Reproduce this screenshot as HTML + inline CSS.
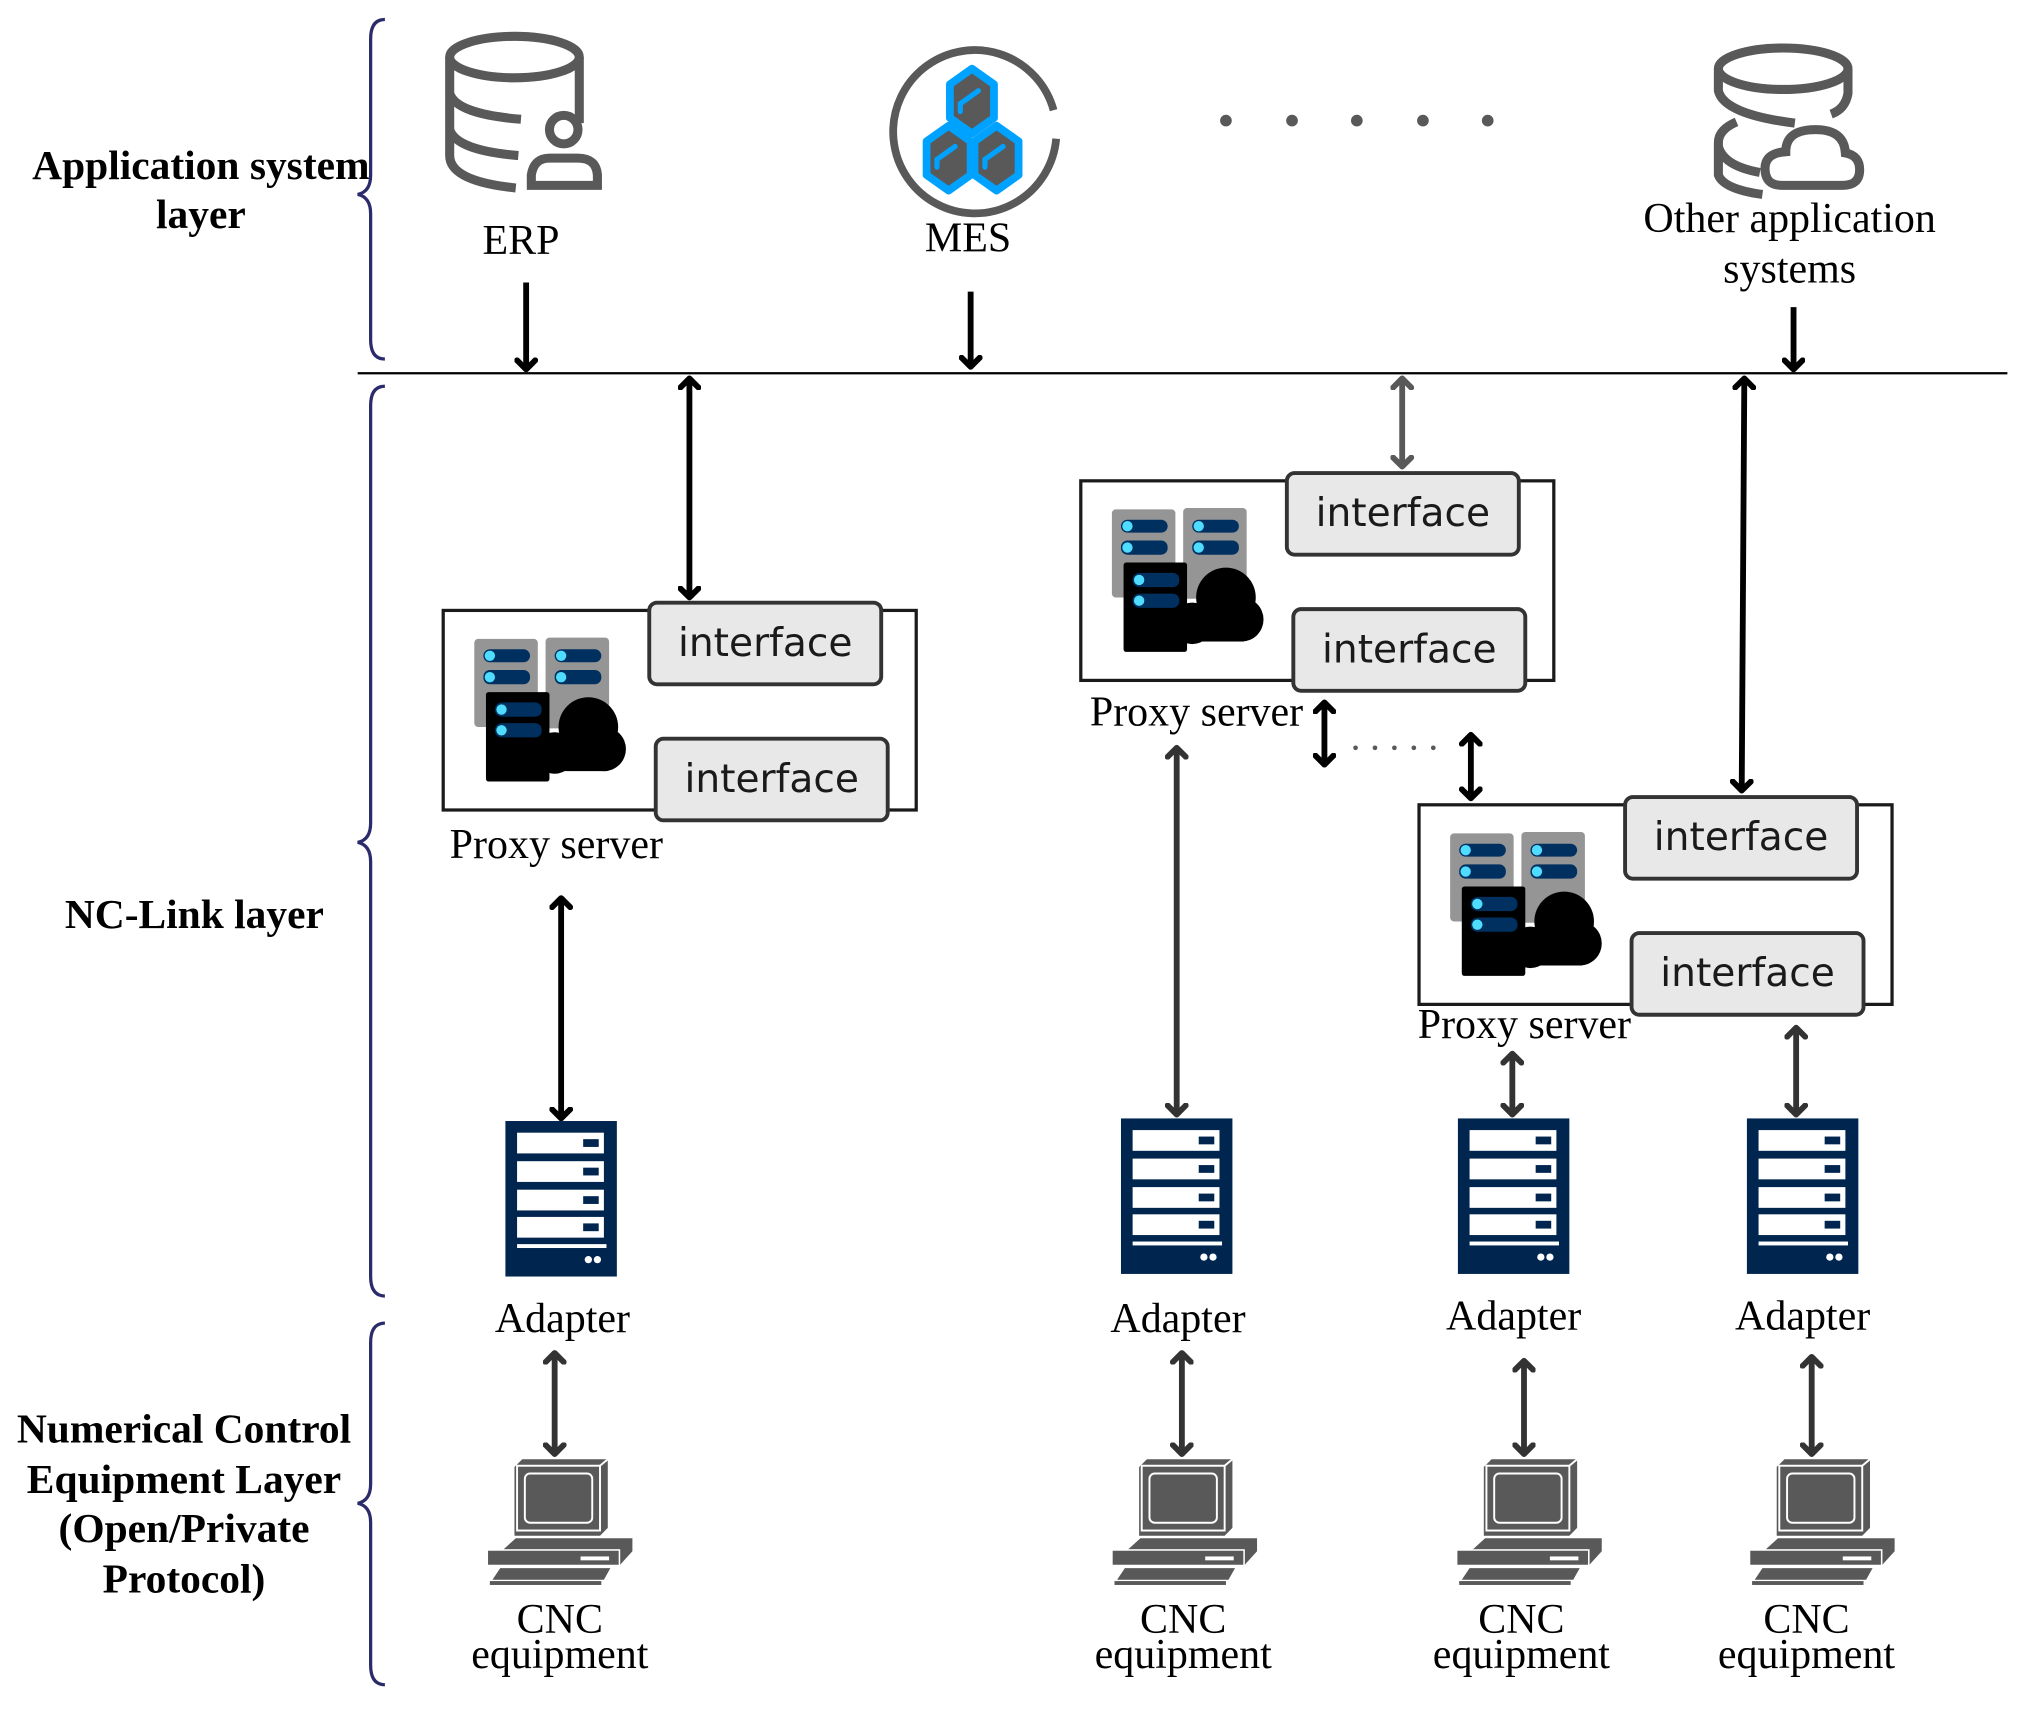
<!DOCTYPE html>
<html><head><meta charset="utf-8"><style>
html,body{margin:0;padding:0;background:#fff}
svg{display:block}
.tn{font-family:"Liberation Serif",serif;font-size:32.4px;fill:#000}
.tb{font-family:"Liberation Serif",serif;font-size:32px;font-weight:bold;fill:#000}
.ti{font-family:"DejaVu Sans","Liberation Sans",sans-serif;font-size:30.2px;fill:#1a1a1a}
</style></head><body>
<svg width="2032" height="1712" viewBox="0 0 1568 1321" xmlns="http://www.w3.org/2000/svg">
<defs>
<marker id="ahk" markerUnits="userSpaceOnUse" markerWidth="18" markerHeight="18" refX="9" refY="9" orient="auto-start-reverse" viewBox="0 0 18 18">
<path d="M2,2 L9,9 L2,16" fill="none" stroke="#000" stroke-width="4.5" stroke-linecap="round" stroke-linejoin="round"/>
</marker>
<marker id="ahd" markerUnits="userSpaceOnUse" markerWidth="18" markerHeight="18" refX="9" refY="9" orient="auto-start-reverse" viewBox="0 0 18 18">
<path d="M2,2 L9,9 L2,16" fill="none" stroke="#333" stroke-width="4.5" stroke-linecap="round" stroke-linejoin="round"/>
</marker>
<marker id="ahg" markerUnits="userSpaceOnUse" markerWidth="18" markerHeight="18" refX="9" refY="9" orient="auto-start-reverse" viewBox="0 0 18 18">
<path d="M2,2 L9,9 L2,16" fill="none" stroke="#595959" stroke-width="4.5" stroke-linecap="round" stroke-linejoin="round"/>
</marker>
<g id="picon">
<rect x="24" y="22" width="49" height="68" rx="3" fill="#959595"/>
<rect x="79" y="21" width="49" height="70" rx="3" fill="#959595"/>
<rect x="31" y="30" width="36" height="10" rx="5" fill="#003060"/><circle cx="36" cy="35" r="4" fill="#4fdcff"/>
<rect x="31" y="46" width="36" height="11" rx="5" fill="#003060"/><circle cx="36" cy="51.5" r="4" fill="#4fdcff"/>
<rect x="86" y="30" width="36" height="10" rx="5" fill="#003060"/><circle cx="91" cy="35" r="4" fill="#4fdcff"/>
<rect x="86" y="46" width="36" height="11" rx="5" fill="#003060"/><circle cx="91" cy="51.5" r="4" fill="#4fdcff"/>
<rect x="33" y="63" width="49" height="69" rx="2" fill="#000"/>
<rect x="40" y="71" width="36" height="11" rx="5" fill="#003060"/><circle cx="45" cy="76.5" r="4" fill="#4fdcff"/>
<rect x="40" y="87" width="36" height="11" rx="5" fill="#003060"/><circle cx="45" cy="92.5" r="4" fill="#4fdcff"/>
<circle cx="112" cy="90" r="23" fill="#000"/>
<circle cx="124" cy="107" r="17" fill="#000"/>
<circle cx="86" cy="110" r="16" fill="#000"/>
<rect x="70" y="105" width="56" height="19" fill="#000"/>
</g>
<g id="proxy">
<rect x="0" y="0" width="365" height="154" fill="#fff" stroke="#1a1a1a" stroke-width="2.5"/>
<use href="#picon"/>
<rect x="159" y="-6" width="179" height="63" rx="6" fill="#e8e8e8" stroke="#333" stroke-width="3"/>
<text class="ti" x="248.5" y="35" text-anchor="middle">interface</text>
<rect x="164" y="99" width="179" height="63" rx="6" fill="#e8e8e8" stroke="#333" stroke-width="3"/>
<text class="ti" x="253.5" y="140" text-anchor="middle">interface</text>
</g>
<g id="adapter">
<rect x="0" y="0" width="86" height="120" fill="#00264f"/>
<rect x="9" y="9" width="67" height="16" fill="#fff"/><rect x="60" y="14" width="12" height="6" fill="#00264f"/>
<rect x="9" y="31" width="67" height="16" fill="#fff"/><rect x="60" y="36" width="12" height="6" fill="#00264f"/>
<rect x="9" y="53" width="67" height="16" fill="#fff"/><rect x="60" y="58" width="12" height="6" fill="#00264f"/>
<rect x="9" y="74" width="67" height="16" fill="#fff"/><rect x="60" y="79" width="12" height="6" fill="#00264f"/>
<rect x="9" y="95" width="69" height="3" fill="#fff"/>
<circle cx="64" cy="107" r="2.8" fill="#fff"/><circle cx="71" cy="107" r="2.8" fill="#fff"/>
</g>
<g id="cnc">
<polygon points="21,6 27,0 93,0 93,53 87,59 21,59" fill="#595959"/>
<rect x="23" y="5" width="64" height="50" fill="#595959" stroke="#fff" stroke-width="1.5"/>
<rect x="29" y="11" width="52" height="38" rx="4" fill="#595959" stroke="#fff" stroke-width="1.5"/>
<polyline points="87,5 93,0" stroke="#fff" stroke-width="1.5" fill="none"/>
<polygon points="12,70 22,61 112,61 112,71 102,82 0,82 0,70" fill="#595959"/>
<rect x="0" y="70" width="102" height="12" fill="#595959" stroke="#fff" stroke-width="1.2"/>
<rect x="72" y="75" width="22" height="3" fill="#fff"/>
<polygon points="10,84 95,84 90,93 4,93" fill="#595959"/>
<rect x="2" y="94" width="86" height="3" fill="#595959"/>
</g>
</defs>

<g fill="none" stroke="#2b2b6b" stroke-width="2.5">
<path d="M297,15 Q286,15 286,30 L286,135 Q286,148 276,150 Q286,152 286,165 L286,262 Q286,277 297,277"/>
<path d="M297,298 Q286,298 286,313 L286,635 Q286,648 276,650 Q286,652 286,665 L286,985 Q286,1000 297,1000"/>
<path d="M297,1021 Q286,1021 286,1036 L286,1145 Q286,1158 276,1160 Q286,1162 286,1175 L286,1285 Q286,1300 297,1300"/>
</g>

<text class="tb" x="155" y="138" text-anchor="middle">Application system</text>
<text class="tb" x="155" y="176" text-anchor="middle">layer</text>
<text class="tb" x="150" y="716" text-anchor="middle">NC-Link layer</text>
<text class="tb" x="142" y="1113" text-anchor="middle">Numerical Control</text>
<text class="tb" x="142" y="1152" text-anchor="middle">Equipment Layer</text>
<text class="tb" x="142" y="1190" text-anchor="middle">(Open/Private</text>
<text class="tb" x="142" y="1229" text-anchor="middle">Protocol)</text>

<g fill="none" stroke="#595959" stroke-width="7">
<ellipse cx="397" cy="44" rx="50" ry="16"/>
<path d="M347,44 L347,120 Q347,140 398,145"/>
<path d="M447,44 L447,95"/>
<path d="M347,72 Q352,88 402,92"/>
<path d="M347,100 Q352,116 400,120"/>
<circle cx="435" cy="100" r="11"/>
<path d="M410,143 L410,135 Q412,122 424,122 L446,122 Q460,122 461,135 L461,143 Z"/>
</g>
<text class="tn" x="402" y="196" text-anchor="middle">ERP</text>

<path d="M813,85 A63,63 0 1 0 815,107" fill="none" stroke="#595959" stroke-width="6"/>
<g stroke="#00a2ff" stroke-width="6" stroke-linejoin="round" fill="#595959">
<polygon points="750,53 767,65 767,91 750,103 733,91 733,65"/>
<polygon points="732,97 749,109 749,135 732,147 715,135 715,109"/>
<polygon points="769,97 786,109 786,135 769,147 752,135 752,109"/>
</g>
<g stroke="#00a2ff" stroke-width="4" fill="none" stroke-linecap="round">
<path d="M755,70 L741,80 L741,86"/><path d="M737,113 L723,123 L723,129"/><path d="M774,113 L760,123 L760,129"/>
</g>
<text class="tn" x="747" y="194" text-anchor="middle">MES</text>

<g fill="#595959"><circle cx="946" cy="93" r="4.5"/><circle cx="997" cy="93" r="4.5"/><circle cx="1047" cy="93" r="4.5"/><circle cx="1098" cy="93" r="4.5"/><circle cx="1148" cy="93" r="4.5"/></g>

<g fill="none" stroke="#595959" stroke-width="7">
<ellipse cx="1376" cy="53" rx="50" ry="16"/>
<path d="M1326,53 L1326,70 Q1330,88 1385,95"/>
<path d="M1426,53 L1426,72 Q1424,84 1413,88"/>
<path d="M1340,94 Q1326,100 1326,110 L1326,135 Q1330,146 1360,150"/>
<path d="M1326,113 Q1330,128 1358,133"/>
<path d="M1375,143 Q1362,143 1362,130 Q1362,118 1378,117 Q1378,100 1401,100 Q1423,100 1424,118 Q1435,120 1435,131 Q1435,143 1422,143 Z"/>
</g>
<text class="tn" x="1381" y="179" text-anchor="middle">Other application</text>
<text class="tn" x="1381" y="218" text-anchor="middle">systems</text>

<line x1="276" y1="288" x2="1549" y2="288" stroke="#000" stroke-width="1.8"/>

<g stroke="#000" stroke-width="4.5">
<line x1="406" y1="218" x2="406" y2="285" marker-end="url(#ahk)"/>
<line x1="749" y1="225" x2="749" y2="283" marker-end="url(#ahk)"/>
<line x1="1384" y1="237" x2="1384" y2="285" marker-end="url(#ahk)"/>
</g>

<use href="#proxy" x="342" y="471"/>
<use href="#proxy" x="834" y="371"/>
<use href="#proxy" x="1095" y="621"/>
<text class="tn" x="347" y="662">Proxy server</text>
<text class="tn" x="841" y="560">Proxy server</text>
<text class="tn" x="1094" y="801">Proxy server</text>

<g stroke="#000" stroke-width="4.5">
<line x1="532" y1="292" x2="532" y2="461" marker-start="url(#ahk)" marker-end="url(#ahk)"/>
<line x1="1346" y1="292" x2="1344" y2="610" marker-start="url(#ahk)" marker-end="url(#ahk)"/>
<line x1="433" y1="693" x2="433" y2="863" marker-start="url(#ahk)" marker-end="url(#ahk)"/>
<line x1="1022" y1="542" x2="1022" y2="590" marker-start="url(#ahk)" marker-end="url(#ahk)"/>
<line x1="1135" y1="567" x2="1135" y2="616" marker-start="url(#ahk)" marker-end="url(#ahk)"/>
</g>
<line x1="1082" y1="292" x2="1082" y2="360" stroke="#595959" stroke-width="4.5" marker-start="url(#ahg)" marker-end="url(#ahg)"/>
<g stroke="#333" stroke-width="4.5">
<line x1="908" y1="577" x2="908" y2="860" marker-start="url(#ahd)" marker-end="url(#ahd)"/>
<line x1="1167" y1="813" x2="1167" y2="860" marker-start="url(#ahd)" marker-end="url(#ahd)"/>
<line x1="1386" y1="793" x2="1386" y2="860" marker-start="url(#ahd)" marker-end="url(#ahd)"/>
<line x1="428" y1="1044" x2="428" y2="1122" marker-start="url(#ahd)" marker-end="url(#ahd)"/>
<line x1="912" y1="1044" x2="912" y2="1122" marker-start="url(#ahd)" marker-end="url(#ahd)"/>
<line x1="1176" y1="1050" x2="1176" y2="1122" marker-start="url(#ahd)" marker-end="url(#ahd)"/>
<line x1="1398" y1="1047" x2="1398" y2="1122" marker-start="url(#ahd)" marker-end="url(#ahd)"/>
</g>
<g fill="#595959"><circle cx="1046" cy="577" r="1.8"/><circle cx="1061" cy="577" r="1.8"/><circle cx="1076" cy="577" r="1.8"/><circle cx="1091" cy="577" r="1.8"/><circle cx="1106" cy="577" r="1.8"/></g>

<use href="#adapter" x="390" y="865"/>
<use href="#adapter" x="865" y="863"/>
<use href="#adapter" x="1125" y="863"/>
<use href="#adapter" x="1348" y="863"/>
<text class="tn" x="434" y="1028" text-anchor="middle">Adapter</text>
<text class="tn" x="909" y="1028" text-anchor="middle">Adapter</text>
<text class="tn" x="1168" y="1026" text-anchor="middle">Adapter</text>
<text class="tn" x="1391" y="1026" text-anchor="middle">Adapter</text>

<use href="#cnc" x="376" y="1126"/>
<use href="#cnc" x="858" y="1126"/>
<use href="#cnc" x="1124" y="1126"/>
<use href="#cnc" x="1350" y="1126"/>
<text class="tn" x="432" y="1260" text-anchor="middle">CNC</text><text class="tn" x="432" y="1287" text-anchor="middle">equipment</text>
<text class="tn" x="913" y="1260" text-anchor="middle">CNC</text><text class="tn" x="913" y="1287" text-anchor="middle">equipment</text>
<text class="tn" x="1174" y="1260" text-anchor="middle">CNC</text><text class="tn" x="1174" y="1287" text-anchor="middle">equipment</text>
<text class="tn" x="1394" y="1260" text-anchor="middle">CNC</text><text class="tn" x="1394" y="1287" text-anchor="middle">equipment</text>
</svg>
</body></html>
